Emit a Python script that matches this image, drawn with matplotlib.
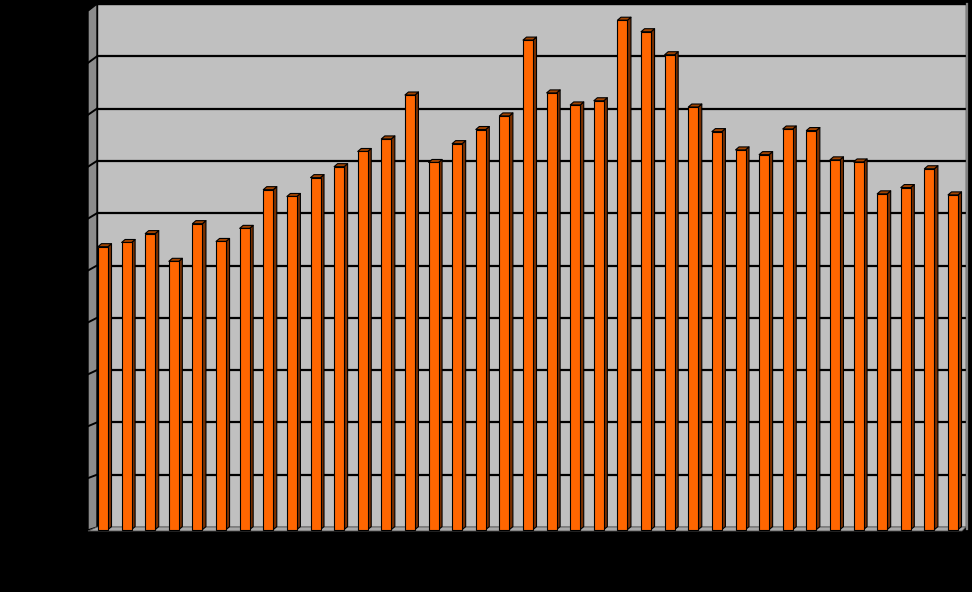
import matplotlib
matplotlib.use("Agg")
import matplotlib.pyplot as plt
from matplotlib.patches import Polygon, Rectangle
from matplotlib.collections import PolyCollection
import numpy as np

# ---- data (0-100 scale, gridline every 10) ----
categories = list(range(1, 38))
values = [53.6, 54.4, 56.1, 50.8, 58.0, 54.6, 57.1, 64.5, 63.2, 66.8,
          68.9, 71.8, 74.2, 82.6, 69.7, 73.3, 76.0, 78.6, 93.1, 83.0,
          80.7, 81.5, 96.9, 94.7, 90.3, 80.3, 75.6, 72.1, 71.2, 76.1,
          75.8, 70.2, 69.8, 63.7, 64.9, 68.5, 63.5]
y_ticks = [0, 10, 20, 30, 40, 50, 60, 70, 80, 90, 100]

# ---- layout ----
W, H, DPI = 972, 592, 100
fig = plt.figure(figsize=(W / DPI, H / DPI), dpi=DPI, facecolor="black")
L, R, T, B = 97, 966, 4, 527          # back-wall box in pixels
ax = fig.add_axes([L / W, (H - B) / H, (R - L) / W, (B - T) / H])
ax.set_facecolor("none")
x0, x1 = -0.254, 36.55
ax.set_xlim(x0, x1)
ax.set_ylim(0, 100)
for s in ax.spines.values():
    s.set_visible(False)
ax.set_xticks([])
ax.set_yticks([])

pxx = (R - L) / (x1 - x0)   # pixels per x unit
pxy = (B - T) / 100.0       # pixels per y unit

def ux(p):
    return p / pxx

def uy(p):
    return p / pxy

# back wall
ax.add_patch(Rectangle((x0, 0), x1 - x0, 100, facecolor="#c0c0c0",
                       edgecolor="black", lw=1.0, zorder=0, clip_on=False))
for g in y_ticks[1:-1]:
    ax.plot([x0, x1], [g, g], color="black", lw=1.6, zorder=1,
            solid_capstyle="butt", clip_on=False)
# thin darker border on the right of the wall
ax.plot([x1 + ux(1.2), x1 + ux(1.2)], [uy(-2), 100], color="#808080", lw=1.6,
        zorder=1, clip_on=False)

# left side wall
wdx = ux(9)
def wdy(v):
    return uy(3 + 4 * v / 100.0)
side = [(x0, 0), (x0, 100), (x0 - wdx, 100 - wdy(100)), (x0 - wdx, -wdy(0))]
ax.add_patch(Polygon(side, closed=True, facecolor="#8c8c8c", edgecolor="black",
                     lw=1.0, zorder=1, clip_on=False))
for g in y_ticks[1:-1]:
    ax.plot([x0 - wdx, x0], [g - wdy(g), g], color="black", lw=1.4,
            zorder=2, clip_on=False)

# floor
fdy = uy(4)
floor = [(x0, 0), (x1, 0), (x1 - ux(4), -fdy), (x0 - wdx, -fdy)]
ax.add_patch(Polygon(floor, closed=True, facecolor="#a8a8a8", edgecolor="#555555",
                     lw=0.6, zorder=2, clip_on=False))

# bars (front face + side + top)
xs = np.arange(len(categories))
bw = ux(10)
base = -0.5
ddx, ddy = ux(3.5), uy(3)
sides, tops = [], []
for xi, v in zip(xs, values):
    r = xi + bw / 2
    l = xi - bw / 2
    sides.append([(r, base), (r, v), (r + ddx, v + ddy), (r + ddx, base + ddy)])
    tops.append([(l, v), (r, v), (r + ddx, v + ddy), (l + ddx, v + ddy)])
ax.add_collection(PolyCollection(sides, facecolors="#7a3000", edgecolors="black",
                                 linewidths=0.8, zorder=3, clip_on=False))
ax.add_collection(PolyCollection(tops, facecolors="#a34400", edgecolors="black",
                                 linewidths=0.8, zorder=3, clip_on=False))
ax.bar(xs, np.array(values) - base, bottom=base, width=bw, color="#ff6600",
       edgecolor="black", linewidth=0.8, zorder=4, clip_on=False)

fig.savefig("out.png", dpi=DPI, facecolor="black")
